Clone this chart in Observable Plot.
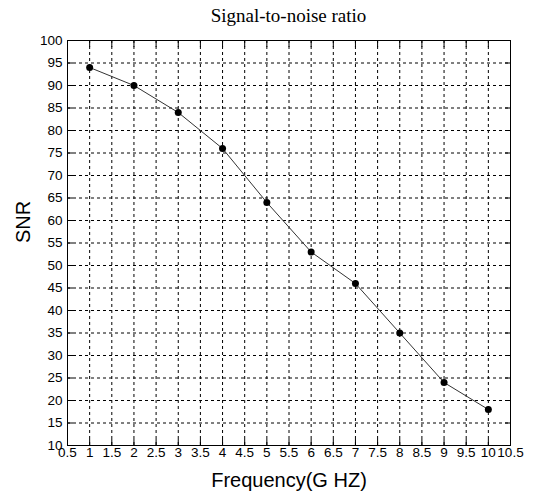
<!DOCTYPE html>
<html>
<head>
<meta charset="utf-8">
<script src="https://cdn.jsdelivr.net/npm/d3@7"></script>
<script src="https://cdn.jsdelivr.net/npm/@observablehq/plot@0.6"></script>
<style>
  html, body { margin: 0; padding: 0; background: #fff; }
  #title { width: 550px; height: 30px; box-sizing: border-box; padding-left: 27px; padding-top: 5px;
           text-align: center; font-family: "Liberation Serif", serif; font-size: 19px; line-height: 22px; color: #000; }
</style>
</head>
<body>
<div id="title">Signal-to-noise ratio</div>
<div id="chart"></div>
<script>
const frequency = [1, 2, 3, 4, 5, 6, 7, 8, 9, 10];
const snr = [94, 90, 84, 76, 64, 53, 46, 35, 24, 18];
const xTicks = [0.5, 1, 1.5, 2, 2.5, 3, 3.5, 4, 4.5, 5, 5.5, 6, 6.5, 7, 7.5, 8, 8.5, 9, 9.5, 10, 10.5];
const yTicks = [10, 15, 20, 25, 30, 35, 40, 45, 50, 55, 60, 65, 70, 75, 80, 85, 90, 95, 100];

const data = frequency.map((f, i) => ({f, s: snr[i]}));

const chart = Plot.plot({
  width: 550,
  height: 465,
  marginTop: 10,
  marginBottom: 50,
  marginLeft: 67,
  marginRight: 40,
  style: {fontFamily: "Liberation Sans, Arial, sans-serif", fontSize: "13.5px", color: "#000", background: "#fff"},
  x: {domain: [0.5, 10.5]},
  y: {domain: [10, 100]},
  marks: [
    Plot.gridX(xTicks, {stroke: "#000", strokeOpacity: 1, strokeWidth: 1, strokeDasharray: "3,3"}),
    Plot.gridY(yTicks, {stroke: "#000", strokeOpacity: 1, strokeWidth: 1, strokeDasharray: "3,3"}),
    Plot.axisX(xTicks, {anchor: "bottom", tickSize: -6, tickPadding: 8, tickFormat: d => String(d), label: null, fontSize: 13.5}),
    Plot.axisX(xTicks, {anchor: "top", tickSize: -6, tickFormat: () => "", label: null}),
    Plot.axisY(yTicks, {anchor: "left", tickSize: -6, tickPadding: 11, tickFormat: d => String(d), label: null, fontSize: 13.5}),
    Plot.axisY(yTicks, {anchor: "right", tickSize: -6, tickFormat: () => "", label: null}),
    Plot.frame({stroke: "#000", strokeWidth: 1}),
    Plot.line(data, {x: "f", y: "s", stroke: "#333", strokeWidth: 1}),
    Plot.dot(data, {x: "f", y: "s", r: 3.5, fill: "#000", stroke: "none"}),
    Plot.text(["SNR"], {frameAnchor: "left", dx: -44, rotate: -90, fontSize: 20, fill: "#000"}),
    Plot.text(["Frequency(G HZ)"], {frameAnchor: "bottom", lineAnchor: "middle", dy: 35.5, fontSize: 20, fill: "#000"})
  ]
});
document.getElementById("chart").appendChild(chart);
</script>
</body>
</html>
